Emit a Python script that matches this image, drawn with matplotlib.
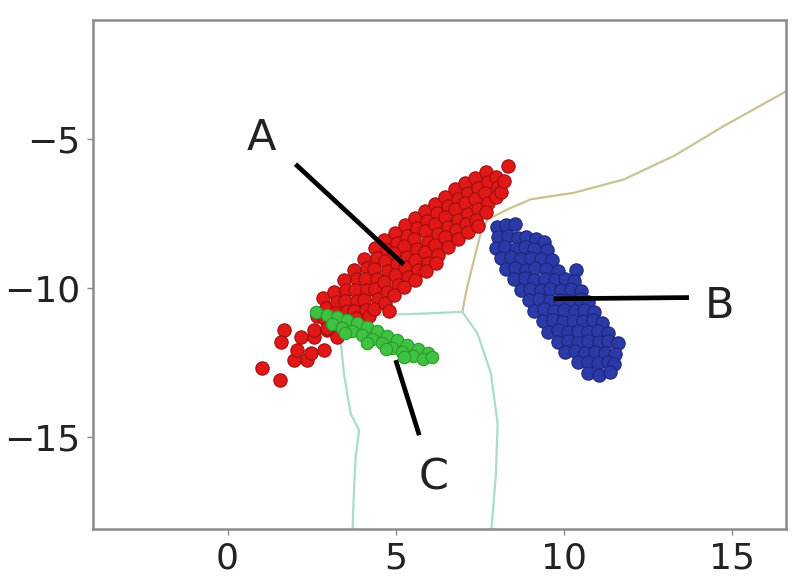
import matplotlib
matplotlib.use("Agg")
import matplotlib.pyplot as plt

# ---- data ----
red_x = [1.03, 1.56, 1.68, 1.58, 1.97, 2.07, 2.17, 2.37, 2.47, 2.57, 2.57, 2.77, 2.87, 2.97, 3.07, 3.26, 2.67,
         2.85, 2.93, 2.88, 2.96,
         3.17, 3.24, 3.19, 3.26,
         3.46, 3.53, 3.49, 3.55, 3.44,
         3.77, 3.84, 3.79, 3.86, 3.76, 3.83,
         4.06, 4.14, 4.08, 4.15, 4.05, 4.13, 4.20,
         4.37, 4.44, 4.36, 4.45, 4.38, 4.46, 4.35,
         4.66, 4.74, 4.68, 4.76, 4.65, 4.73, 4.69, 4.80,
         4.97, 5.05, 4.96, 5.04, 4.98, 5.06, 4.95,
         5.27, 5.34, 5.26, 5.35, 5.28, 5.36, 5.25,
         5.57, 5.64, 5.55, 5.63, 5.58, 5.66, 5.56,
         5.87, 5.94, 5.86, 5.95, 5.88, 5.96, 5.90,
         6.17, 6.24, 6.16, 6.25, 6.18, 6.26, 6.20,
         6.47, 6.54, 6.46, 6.55, 6.48, 6.56,
         6.77, 6.84, 6.76, 6.85, 6.78, 6.86,
         7.07, 7.14, 7.06, 7.15, 7.08, 7.16,
         7.37, 7.44, 7.36, 7.45, 7.38, 7.46,
         7.67, 7.74, 7.66, 7.75, 7.68,
         7.98, 8.04, 7.97, 8.12, 8.33, 8.22]
red_y = [-12.70, -13.09, -11.40, -11.80, -12.42, -12.08, -11.63, -12.42, -12.19, -11.63, -11.40, -10.84, -12.08, -11.40, -10.96, -11.63, -10.95,
         -10.35, -10.68, -11.02, -11.33,
         -10.12, -10.47, -10.83, -11.18,
         -9.74, -10.08, -10.44, -10.77, -11.12,
         -9.38, -9.71, -10.05, -10.42, -10.78, -11.02,
         -9.02, -9.33, -9.70, -10.06, -10.39, -10.74, -10.95,
         -8.66, -8.99, -9.36, -9.68, -10.04, -10.38, -10.72,
         -8.40, -8.72, -9.10, -9.44, -9.79, -10.13, -10.50, -10.78,
         -8.16, -8.48, -8.84, -9.19, -9.55, -9.90, -10.24,
         -7.90, -8.24, -8.60, -8.95, -9.30, -9.64, -9.98,
         -7.66, -7.99, -8.35, -8.69, -9.05, -9.40, -9.72,
         -7.42, -7.75, -8.10, -8.44, -8.80, -9.15, -9.42,
         -7.17, -7.49, -7.85, -8.20, -8.55, -8.90, -9.15,
         -6.93, -7.25, -7.60, -7.95, -8.30, -8.62,
         -6.68, -7.00, -7.35, -7.70, -8.05, -8.36,
         -6.48, -6.80, -7.15, -7.50, -7.85, -8.12,
         -6.32, -6.64, -7.00, -7.35, -7.70, -7.92,
         -6.12, -6.45, -6.80, -7.15, -7.46,
         -6.28, -6.60, -6.95, -6.78, -5.91, -6.42]

blue_x = [8.00, 8.28, 8.55,
          8.05, 8.33, 8.63, 8.88, 9.17, 9.40,
          7.98, 8.26, 8.57, 8.85, 9.12, 9.50,
          8.12, 8.42, 8.73, 9.03, 9.33, 9.66,
          8.27, 8.55, 8.86, 9.15, 9.47, 9.82, 10.36,
          8.52, 8.83, 9.12, 9.43, 9.73, 10.03, 10.30,
          8.72, 9.00, 9.32, 9.60, 9.92, 10.20, 10.50,
          8.97, 9.27, 9.58, 9.88, 10.18, 10.47, 10.72,
          9.12, 9.42, 9.72, 10.01, 10.32, 10.61, 10.90,
          9.37, 9.68, 9.97, 10.28, 10.57, 10.87, 11.12,
          9.53, 9.82, 10.12, 10.42, 10.72, 11.02, 11.30,
          9.82, 10.12, 10.43, 10.72, 11.03, 11.32, 11.60,
          10.02, 10.32, 10.62, 10.92, 11.22, 11.53,
          10.42, 10.72, 11.02, 11.30, 11.50,
          10.73, 11.05, 11.36]
blue_y = [-7.95, -7.88, -7.84,
          -8.30, -8.25, -8.33, -8.28, -8.36, -8.46,
          -8.66, -8.62, -8.68, -8.63, -8.69, -8.72,
          -9.00, -8.97, -9.03, -8.99, -9.04, -9.06,
          -9.36, -9.32, -9.38, -9.34, -9.37, -9.42, -9.38,
          -9.70, -9.67, -9.73, -9.69, -9.72, -9.68, -9.76,
          -10.06, -10.02, -10.08, -10.04, -10.07, -10.03, -10.11,
          -10.40, -10.37, -10.43, -10.39, -10.42, -10.38, -10.46,
          -10.76, -10.72, -10.78, -10.74, -10.77, -10.73, -10.81,
          -11.10, -11.07, -11.13, -11.09, -11.12, -11.08, -11.16,
          -11.46, -11.42, -11.48, -11.44, -11.47, -11.43, -11.51,
          -11.80, -11.77, -11.83, -11.79, -11.82, -11.78, -11.86,
          -12.16, -12.12, -12.18, -12.14, -12.17, -12.21,
          -12.50, -12.47, -12.53, -12.49, -12.56,
          -12.85, -12.91, -12.82]

green_x = [2.62, 2.95, 3.25, 3.55, 3.85, 4.15, 4.45, 4.75, 5.05, 5.35, 5.65, 5.95,
           3.10, 3.40, 3.70, 4.00, 4.30, 4.60, 4.90, 5.20, 5.50, 5.80, 6.08,
           3.50, 4.15, 4.70, 5.25]
green_y = [-10.79, -10.90, -10.98, -11.08, -11.18, -11.30, -11.45, -11.60, -11.75, -11.92, -12.05, -12.18,
           -11.20, -11.35, -11.45, -11.58, -11.72, -11.86, -12.00, -12.15, -12.28, -12.38, -12.32,
           -11.50, -11.85, -12.05, -12.30]

# decision boundaries
tan_x = [16.6, 14.77, 13.28, 11.79, 10.31, 9.02, 8.32, 7.73, 7.53, 7.33, 7.13, 6.98]
tan_y = [-3.40, -4.55, -5.56, -6.35, -6.80, -7.02, -7.36, -7.70, -8.15, -9.04, -9.94, -10.80]
teal_h_x = [6.98, 6.0, 4.65, 3.9, 3.3]
teal_h_y = [-10.80, -10.85, -10.90, -10.95, -10.92]
teal_r_x = [6.98, 7.43, 7.83, 8.03, 7.98, 7.83]
teal_r_y = [-10.80, -11.52, -12.86, -14.55, -16.24, -18.3]
teal_l_x = [3.0, 3.36, 3.46, 3.66, 3.91, 3.81, 3.76, 3.71]
teal_l_y = [-11.2, -11.74, -12.87, -14.21, -14.78, -15.67, -16.80, -18.3]

# annotations
labels = ["A", "B", "C"]
label_x = [1.01, 14.62, 6.12]
label_y = [-4.97, -10.59, -16.35]
pointer_x = [[2.02, 5.24], [9.70, 13.72], [5.00, 5.70]]
pointer_y = [[-5.84, -9.21], [-10.36, -10.32], [-12.42, -14.94]]

xticks = [0, 5, 10, 15]
yticks = [-5, -10, -15]

# ---- plot ----
fig = plt.figure(figsize=(8.06, 5.78), dpi=100)
ax = fig.add_axes([0.1154, 0.0843, 0.8596, 0.8811])

ax.plot(tan_x, tan_y, color="#c9c392", lw=1.6, zorder=1)
ax.plot(teal_h_x, teal_h_y, color="#a9dcc9", lw=1.6, zorder=1)
ax.plot(teal_r_x, teal_r_y, color="#a9dcc9", lw=1.6, zorder=1)
ax.plot(teal_l_x, teal_l_y, color="#a9dcc9", lw=1.6, zorder=1)

ax.scatter(red_x, red_y, s=92, c="#e01818", edgecolors="#a00e0e", linewidths=0.8, zorder=2)
ax.scatter(blue_x, blue_y, s=92, c="#2b3aa6", edgecolors="#1c2680", linewidths=0.8, zorder=2)
ax.scatter(green_x, green_y, s=80, c="#3fc23f", edgecolors="#2a9a2a", linewidths=0.8, zorder=3)

for lab, lx, ly, px, py in zip(labels, label_x, label_y, pointer_x, pointer_y):
    ax.plot(px, py, color="black", lw=3.4, solid_capstyle="butt", zorder=4)
    ax.text(lx, ly, lab, fontsize=31, ha="center", va="center", color="#222222", zorder=5)

ax.set_xlim(-4.0, 16.6)
ax.set_ylim(-18.1, -1.0)
ax.set_xticks(xticks)
ax.set_yticks(yticks)
ax.set_xticklabels([str(t) for t in xticks])
ax.set_yticklabels(["\u2212" + str(abs(t)) for t in yticks])
ax.tick_params(labelsize=26, colors="#888888", labelcolor="#222222", length=4, width=1.0, pad=5)
for sp in ax.spines.values():
    sp.set_color("#8a8a8a")
    sp.set_linewidth(1.8)

fig.savefig("out.png", dpi=100)
